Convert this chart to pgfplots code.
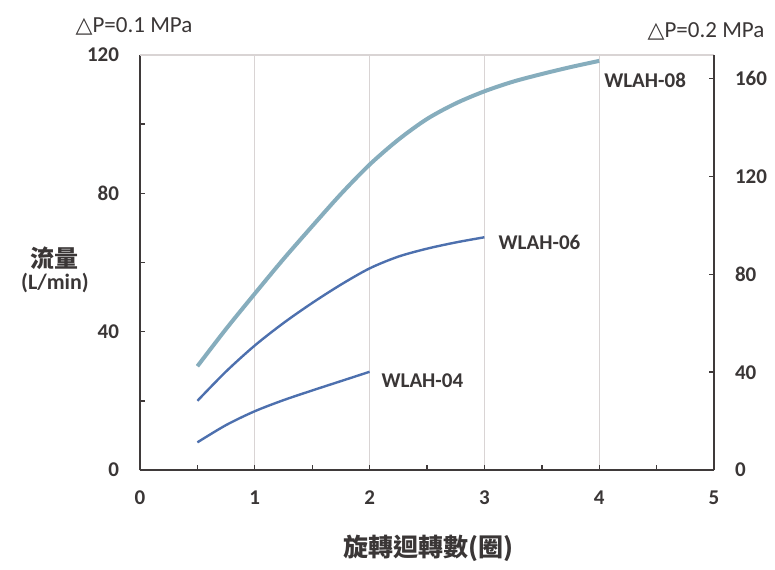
\documentclass[border=0pt]{standalone}
\usepackage{fontspec}
\setmainfont{Carlito}
\newfontfamily\cjk{Noto Sans CJK TC}
\newfontfamily\sym{DejaVu Sans}
\usepackage{pgfplots}
\pgfplotsset{compat=1.18}
\definecolor{axdark}{HTML}{3F3A3A}
\definecolor{gridc}{HTML}{D9D4D4}
\definecolor{c08}{HTML}{86ADBD}
\definecolor{c06}{HTML}{4D70AE}
\definecolor{txt}{HTML}{3A3636}
\begin{document}
\begin{tikzpicture}
\useasboundingbox (-70pt,-49.5pt) rectangle (317.5pt,235pt);
\begin{axis}[
  at={(0,0)}, anchor=south west,
  scale only axis, width=287pt, height=207.5pt,
  xmin=0, xmax=5, ymin=0, ymax=120,
  axis x line*=bottom, axis y line*=left,
  axis line style={-, draw=axdark, line width=0.8pt},
  xtick={0,1,2,3,4,5}, minor xtick={0.5,1.5,2.5,3.5,4.5},
  ytick={0,40,80,120}, minor ytick={20,60,100},
  tick align=inside,
  major tick length=2.5pt, minor tick length=2.5pt,
  tick style={draw=axdark, line width=0.7pt},
  xmajorgrids, grid style={draw=gridc, line width=0.5pt},
  /pgf/number format/assume math mode=true,
  ticklabel style={font=\fontsize{10.5}{12}\selectfont\bfseries, text=txt},
  xticklabel style={yshift=-7pt},
  yticklabel style={xshift=-7pt},
  clip=false,
]
\draw[gridc, line width=0.6pt] (axis cs:0,120) -- (axis cs:5,120);
\addplot[c08, line width=2pt, smooth, tension=0.5] coordinates {(0.5,30) (0.75,40.8) (1,51) (1.25,61) (1.5,70.5) (1.75,79.8) (2,88.3) (2.25,95.5) (2.5,101.5) (2.75,106) (3,109.5) (3.25,112.3) (3.5,114.5) (3.75,116.5) (4,118.3)};
\addplot[c06, line width=1.2pt, smooth, tension=0.5] coordinates {(0.5,20) (0.75,28.5) (1,36) (1.25,42.5) (1.5,48.3) (1.75,53.6) (2,58.3) (2.25,61.7) (2.5,64) (2.75,65.8) (3,67.3)};
\addplot[c06, line width=1.2pt, smooth, tension=0.5] coordinates {(0.5,8) (0.75,13) (1,17) (1.25,20.2) (1.5,23) (1.75,25.7) (2,28.4)};
\node[font=\fontsize{10.5}{12}\selectfont\bfseries, text=txt] at (axis cs:4.40,112.8) {WLAH-08};
\node[font=\fontsize{10.5}{12}\selectfont\bfseries, text=txt] at (axis cs:3.48,65.9) {WLAH-06};
\node[font=\fontsize{10.5}{12}\selectfont\bfseries, text=txt] at (axis cs:2.46,25.7) {WLAH-04};
\end{axis}
\begin{axis}[
  at={(0,0)}, anchor=south west,
  scale only axis, width=287pt, height=207.5pt,
  xmin=0, xmax=5, ymin=0, ymax=169.7,
  axis x line=none, axis y line*=right,
  axis line style={-, draw=axdark, line width=0.8pt},
  ytick={0,40,80,120,160},
  tick align=inside, major tick length=2.5pt,
  tick style={draw=axdark, line width=0.7pt},
  /pgf/number format/assume math mode=true,
  ticklabel style={font=\fontsize{10.5}{12}\selectfont\bfseries, text=txt},
  yticklabel style={xshift=7pt},
  clip=false,
]
\end{axis}
\node[font=\fontsize{11.5}{13}\selectfont, text=txt] at (-3pt,222pt) {{\sym\fontsize{11}{13}\selectfont △}P=0.1 MPa};
\node[font=\fontsize{11.5}{13}\selectfont, text=txt] at (283pt,219.5pt) {{\sym\fontsize{11}{13}\selectfont △}P=0.2 MPa};
\node[align=center, text=txt, font=\bfseries] at (-42.5pt,100pt) {{\cjk\bfseries\fontsize{12}{13}\selectfont 流量}\\[-1pt]{\fontsize{11}{12}\selectfont (L/min)}};
\node[text=txt] at (144pt,-39pt) {\cjk\bfseries\fontsize{12.5}{14}\selectfont 旋轉迴轉數(圈)};
\end{tikzpicture}
\end{document}
